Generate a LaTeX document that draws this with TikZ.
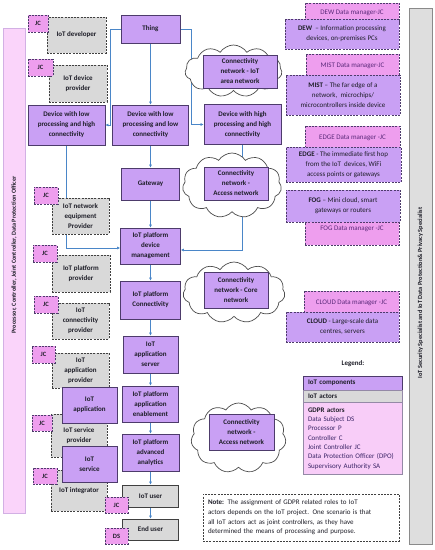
\documentclass[tikz,border=0pt]{standalone}
\usepackage{fontspec}
\setmainfont{Carlito}
\usetikzlibrary{shapes.symbols,arrows.meta}
\pgfdeclarelayer{background}
\pgfsetlayers{background,main}
\definecolor{compfill}{HTML}{C9A0F4}
\definecolor{compdraw}{HTML}{4D3B6B}
\definecolor{actorfill}{HTML}{D9D9D9}
\definecolor{actordraw}{HTML}{404040}
\definecolor{jcfill}{HTML}{EE9EEE}
\definecolor{barpink}{HTML}{FAD4FA}
\definecolor{barpinkdraw}{HTML}{D2B0E4}
\definecolor{gdprfill}{HTML}{F8CDF8}
\definecolor{bargray}{HTML}{DEDEDE}
\definecolor{bargraydraw}{HTML}{8A8A8A}
\definecolor{linkblue}{HTML}{4A86C8}
\definecolor{txt}{HTML}{1E1E28}
\definecolor{mgrtxt}{HTML}{5A2A7A}
\definecolor{gdprtxt}{HTML}{3A2466}
\begin{document}
\begin{tikzpicture}[x=1pt,y=-1pt,
  every node/.style={inner sep=0pt, text=txt},
  boxfont/.style={font=\bfseries\fontsize{7}{10}\selectfont},
  comp/.style={boxfont, fill=compfill, draw=compdraw, line width=0.8pt, align=center},
  actor/.style={boxfont, fill=actorfill, draw=actordraw, line width=0.7pt, dash pattern=on 2pt off 1.2pt, align=center},
  solidactor/.style={boxfont, fill=actorfill, draw=actordraw, line width=0.8pt, align=center},
  jcbox/.style={font=\bfseries\fontsize{6.5}{8}\selectfont, fill=jcfill, draw=compdraw, line width=0.7pt, dash pattern=on 2pt off 1.2pt},
  layerbox/.style={font=\fontsize{7}{10}\selectfont, fill=compfill, draw=compdraw, line width=0.7pt, dash pattern=on 2pt off 1.2pt, align=center},
  mgrbox/.style={font=\fontsize{7}{9}\selectfont, text=mgrtxt, fill=jcfill, draw=compdraw, line width=0.7pt, dash pattern=on 2pt off 1.2pt},
  cloudshape/.style={cloud, cloud puffs=11, cloud puff arc=115, draw=black!70, fill=white, line width=0.7pt},
  link/.style={draw=linkblue, line width=0.7pt, -{Latex[length=3pt,width=3pt]}},
  legbox/.style={font=\bfseries\fontsize{7}{9}\selectfont, text width=89pt, inner xsep=5pt, align=left, line width=0.7pt}
]
\useasboundingbox (0,0) rectangle (435,550);

% side bars
\node[fill=barpink, draw=barpinkdraw, line width=0.8pt, minimum width=22pt, minimum height=485pt] (lbar) at (14,270.5) {};
\node[rotate=90, font=\bfseries\fontsize{6.2}{8}\selectfont] (ltext) at (14,255) {Processor, Controller, Joint Controller, Data Protection Officer};
\node[fill=bargray, draw=bargraydraw, line width=0.8pt, minimum width=23pt, minimum height=536pt] (rbar) at (420.5,276) {};
\node[rotate=90, font=\bfseries\fontsize{6.3}{8}\selectfont] (rtext) at (420.5,293) {IoT Security Specialist and IoT Data Protection\& Privacy Specialist};

% clouds
\node[cloudshape, minimum width=97pt, minimum height=52pt] (cloud1) at (233.5,71) {};
\node[cloudshape, minimum width=99pt, minimum height=65pt] (cloud2) at (232,185.5) {};
\node[cloudshape, minimum width=102pt, minimum height=61pt] (cloud3) at (234,292.5) {};
\node[cloudshape, minimum width=95pt, minimum height=70pt] (cloud4) at (238.5,438) {};
\node[comp, minimum width=74pt, minimum height=33pt] (c1box) at (240,71.5) {Connectivity\\network - IoT\\area network};
\node[comp, minimum width=64pt, minimum height=33pt] (c2box) at (236,183.5) {Connectivity\\network -\\Access network};
\node[comp, minimum width=64pt, minimum height=36pt] (c3box) at (236,290) {Connectivity\\network - Core\\network};
\node[comp, minimum width=65pt, minimum height=36pt] (c4box) at (241.5,432) {Connectivity\\network -\\Access network};

% central column
\node[comp, minimum width=59pt, minimum height=28pt] (thing) at (150.5,29) {Thing};
\node[comp, minimum width=77pt, minimum height=40pt] (devLH) at (66.5,125) {Device with low\\processing and high\\connectivity};
\node[comp, minimum width=76pt, minimum height=40pt] (devLL) at (150.5,125) {Device with low\\processing and low\\connectivity};
\node[comp, minimum width=77pt, minimum height=40pt] (devHH) at (242.5,124.5) {Device with high\\processing and high\\connectivity};
\node[comp, minimum width=58pt, minimum height=32pt] (gateway) at (150.5,184) {Gateway};
\node[comp, minimum width=60pt, minimum height=36pt] (devmgmt) at (150.5,246) {IoT platform\\device\\management};
\node[comp, minimum width=60pt, minimum height=38pt] (platconn) at (150.5,300) {IoT platform\\Connectivity};
\node[comp, minimum width=55pt, minimum height=37pt] (appserver) at (150.5,354.5) {IoT\\application\\server};
\node[comp, minimum width=56pt, minimum height=36pt] (enable) at (150.5,404) {IoT platform\\application\\enablement};
\node[comp, minimum width=57pt, minimum height=37pt] (analytics) at (150.5,452.5) {IoT platform\\advanced\\analytics};
\node[solidactor, minimum width=56pt, minimum height=22pt] (iotuser) at (150.5,496) {IoT user};
\node[solidactor, minimum width=56pt, minimum height=21pt] (enduser) at (150.5,529.5) {End user};

% actors
\node[actor, minimum width=59pt, minimum height=36pt] (developer) at (76.5,35) {IoT developer};
\node[jcbox, minimum width=20pt, minimum height=17pt] (jc1) at (38,23.5) {JC};
\node[actor, minimum width=58pt, minimum height=37pt] (devprov) at (78,83.5) {IoT device\\provider};
\node[jcbox, minimum width=25pt, minimum height=17pt] (jc2) at (40.5,67.5) {JC};
\node[actor, minimum width=57pt, minimum height=36pt] (neteq) at (80.5,216) {IoT network\\equipment\\Provider};
\node[jcbox, minimum width=24pt, minimum height=17pt] (jc3) at (46,195.5) {JC};
\node[actor, minimum width=58pt, minimum height=37pt] (platprov) at (81,273.5) {IoT platform\\provider};
\node[jcbox, minimum width=24pt, minimum height=17pt] (jc4) at (45,253.5) {JC};
\node[actor, minimum width=57pt, minimum height=36pt] (connprov) at (80.5,321) {IoT\\connectivity\\provider};
\node[jcbox, minimum width=24pt, minimum height=17pt] (jc5) at (46,304.5) {JC};
\node[actor, minimum width=57pt, minimum height=35pt] (appprov) at (80.5,370.5) {IoT\\application\\provider};
\node[jcbox, minimum width=23pt, minimum height=17pt] (jc6) at (43.5,354.5) {JC};
\node[actor, minimum width=56pt, minimum height=43pt] (servprov) at (79,435.5) {IoT service\\provider};
\node[jcbox, minimum width=20pt, minimum height=16pt] (jc7) at (42,423) {JC};
\node[comp, minimum width=55pt, minimum height=36pt] (app) at (89.5,405) {IoT\\application};
\node[actor, minimum width=56pt, minimum height=41pt] (integrator) at (79,490.5) {IoT integrator};
\node[jcbox, minimum width=24pt, minimum height=16pt] (jc8) at (45,476) {JC};
\node[comp, minimum width=55pt, minimum height=36pt] (service) at (89.5,464) {IoT\\service};
\node[jcbox, minimum width=23pt, minimum height=16pt] (jc9) at (116.5,505) {JC};
\node[jcbox, minimum width=23pt, minimum height=16pt] (ds) at (116.5,536) {DS};

% computing layers
\node[mgrbox, minimum width=94pt, minimum height=20pt] (dewmgr) at (352,13) {DEW Data manager-JC};
\node[layerbox, minimum width=114pt, minimum height=30pt] (dew) at (342,34) {\textbf{DEW} \ – Information processing\\devices, on-premises PCs};
\node[mgrbox, minimum width=93pt, minimum height=24pt] (mistmgr) at (352.5,66) {MIST Data manager-JC};
\node[layerbox, minimum width=114pt, minimum height=40pt] (mist) at (343,95) {\textbf{MIST} – The far edge of a\\network, \ microchips/\\microcontrollers inside device};
\node[mgrbox, minimum width=95pt, minimum height=24pt] (edgemgr) at (352.5,138) {EDGE Data manager -JC};
\node[layerbox, minimum width=115pt, minimum height=35pt] (edge) at (343.5,164.5) {\textbf{EDGE} - The immediate first hop\\from the IoT \ devices, WiFi\\access points or gateways};
\node[mgrbox, minimum width=94pt, minimum height=32pt] (fogmgr) at (352,229) {FOG Data manager -JC};
\node[layerbox, minimum width=114pt, minimum height=32pt] (fog) at (343,206) {\textbf{FOG} – Mini cloud, smart\\gateways or routers};
\node[mgrbox, minimum width=95pt, minimum height=24pt] (cloudmgr) at (351.5,303) {CLOUD Data manager -JC};
\node[layerbox, minimum width=113pt, minimum height=30pt] (cloudl) at (342.5,327) {\textbf{CLOUD} - Large-scale data\\centres, servers};

% legend
\node[font=\bfseries\fontsize{7}{9}\selectfont] (legtitle) at (353,364) {Legend:};
\node[legbox, fill=compfill, draw=compdraw, minimum height=14pt] (legcomp) at (352.5,383) {IoT components};
\node[legbox, fill=actorfill, draw=compdraw!60, minimum height=12pt] (legact) at (352.5,396) {IoT actors};
\node[legbox, fill=gdprfill, draw=compdraw!60, minimum height=72pt, font=\fontsize{7}{9.3}\selectfont, text=gdprtxt] (leggdpr) at (352.5,438.5) {{\bfseries\color{txt}GDPR actors}\\Data Subject DS\\Processor P\\Controller C\\Joint Controller JC\\Data Protection Officer (DPO)\\Supervisory Authority SA};

% note
\node[draw=actordraw, line width=0.7pt, dash pattern=on 2pt off 1.2pt, fill=white, text width=186pt, inner xsep=5pt, minimum height=47pt, align=left, font=\fontsize{7}{9.6}\selectfont] (note) at (301,517.5) {\textbf{Note:} The assignment of GDPR related roles to IoT\\actors depends on the IoT project. One scenario is that\\all IoT actors act as joint controllers, as they have\\determined the means of processing and purpose.};

% connectors
\begin{pgfonlayer}{background}
\draw[link] (thing.west) -| ([xshift=5pt]devLH.east) -- (devLH.east);
\draw[link] (thing.south) -- (devLL.north);
\draw[link] (thing.east) -| ([xshift=-12pt]devHH.west) -- (devHH.west);
\draw[link] (devLL.south) -- (gateway.north);
\draw[link] (gateway.south) -- (devmgmt.north);
\draw[link] (devLH.south) |- ([yshift=-2pt]devmgmt.west);
\draw[link] (devHH.south) |- ([yshift=-4pt]devmgmt.east);
\draw[link] (devmgmt.south) -- (platconn.north);
\draw[link] (platconn.south) -- (appserver.north);
\draw[link] (appserver.south) -- (enable.north);
\draw[link] (enable.south) -- (analytics.north);
\draw[link] (analytics.south) -- (iotuser.north);
\draw[link] (iotuser.south) -- (enduser.north);
\end{pgfonlayer}
\end{tikzpicture}
\end{document}
